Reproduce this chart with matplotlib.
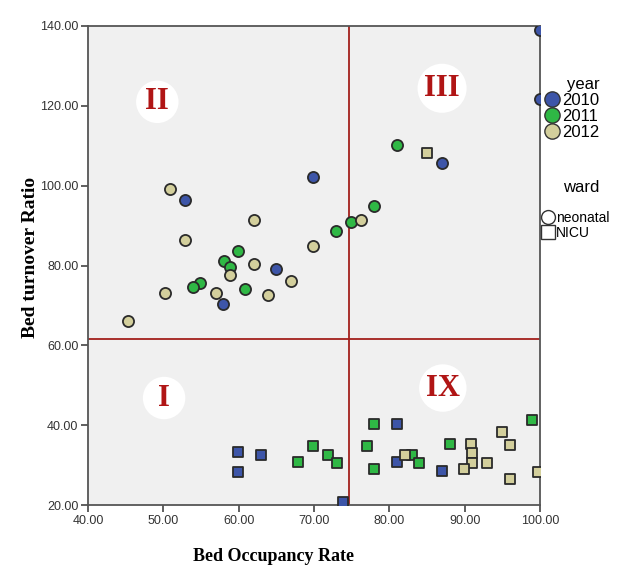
import matplotlib.pyplot as plt
from matplotlib.lines import Line2D

# bed occupancy rate (x) and bed turnover ratio (y), by ward and year
neo_2010_x = [52.9, 69.9, 64.9, 57.9, 87.0, 100.0, 100.0]
neo_2010_y = [96.5, 102.1, 79.0, 70.3, 105.7, 139.0, 121.8]
neo_2011_x = [72.9, 74.9, 59.9, 58.0, 54.9, 53.9, 60.9, 81.0, 77.9, 58.9]
neo_2011_y = [88.6, 91.0, 83.7, 81.2, 75.6, 74.5, 74.0, 110.3, 94.8, 79.5]
neo_2012_x = [50.9, 52.9, 62.0, 69.9, 58.9, 62.0, 66.9, 50.2, 57.0, 63.9, 45.3, 76.3]
neo_2012_y = [99.2, 86.5, 91.4, 85.0, 77.7, 80.5, 76.0, 73.2, 73.0, 72.7, 66.0, 91.5]

nicu_2010_x = [59.9, 59.9, 63.0, 73.8, 81.0, 81.0, 87.0]
nicu_2010_y = [33.3, 28.2, 32.5, 20.7, 40.4, 30.8, 28.4]
nicu_2011_x = [67.9, 69.9, 71.9, 73.0, 77.9, 77.0, 77.9, 83.0, 84.0, 88.0, 99.0]
nicu_2011_y = [30.8, 34.7, 32.5, 30.4, 40.4, 34.7, 29.1, 32.5, 30.4, 35.3, 41.2]
nicu_2012_x = [85.0, 82.1, 90.8, 91.0, 91.0, 89.9, 92.9, 94.9, 96.0, 96.0, 99.8]
nicu_2012_y = [108.3, 32.5, 35.2, 33.0, 30.5, 29.0, 30.5, 38.2, 35.1, 26.6, 28.3]

years = ['2010', '2011', '2012']
wards = ['neonatal', 'NICU']
cut_x = 74.6
cut_y = 61.5

quad_labels = ['II', 'III', 'I', 'IX']
quad_x = [49.2, 87.0, 50.1, 87.1]
quad_y = [121.0, 124.4, 46.8, 49.3]

colors = {'2010': '#3d55a8', '2011': '#2fb845', '2012': '#d3cf9c'}
edge = '#2a2a2a'

fig = plt.figure(figsize=(6.28, 5.85), dpi=100)
ax = fig.add_axes([88/628, 1-505/585, 452/628, 479/585])
ax.set_facecolor('#f0f0f0')

groups = [
    (neo_2010_x, neo_2010_y, '2010', 'o'),
    (neo_2011_x, neo_2011_y, '2011', 'o'),
    (neo_2012_x, neo_2012_y, '2012', 'o'),
    (nicu_2010_x, nicu_2010_y, '2010', 's'),
    (nicu_2011_x, nicu_2011_y, '2011', 's'),
    (nicu_2012_x, nicu_2012_y, '2012', 's'),
]
for gx, gy, yr, mk in groups:
    ax.scatter(gx, gy, s=64 if mk == 'o' else 58, marker=mk, c=colors[yr],
               edgecolors=edge, linewidths=1.3, zorder=3)

ax.axvline(cut_x, color='#a3201c', lw=1.3, zorder=2)
ax.axhline(cut_y, color='#a3201c', lw=1.3, zorder=2)

for lab, qx, qy in zip(quad_labels, quad_x, quad_y):
    ax.text(qx, qy, lab, ha='center', va='center', fontsize=22,
            family='Liberation Serif', fontweight='bold', color='#b01515',
            bbox=dict(boxstyle='circle,pad=0.22', fc='white', ec='none'))

ax.set_xlim(40, 100)
ax.set_ylim(20, 140)
ax.set_xticks([40, 50, 60, 70, 80, 90, 100])
ax.set_yticks([20, 40, 60, 80, 100, 120, 140])
ax.xaxis.set_major_formatter(plt.FormatStrFormatter('%.2f'))
ax.yaxis.set_major_formatter(plt.FormatStrFormatter('%.2f'))
ax.tick_params(direction='out', length=5, width=1.2, color='#444444',
               labelsize=9, labelcolor='#333333', pad=2)
for lbl in ax.get_xticklabels() + ax.get_yticklabels():
    lbl.set_family('Liberation Sans')
for sp in ax.spines.values():
    sp.set_color('#555555')
    sp.set_linewidth(1.3)

ax.set_xlabel('Bed Occupancy Rate', family='Liberation Serif',
              fontweight='bold', fontsize=13)
ax.set_ylabel('Bed turnover Ratio', family='Liberation Serif',
              fontweight='bold', fontsize=14)
ax.xaxis.set_label_coords(0.41, -0.09)
ax.yaxis.set_label_coords(-0.108, 0.516)

# legends
year_handles = [Line2D([], [], ls='', marker='o', ms=11, mfc=colors[y],
                       mec='#333333', mew=1) for y in years]
leg1 = fig.legend(year_handles, years, title='year', loc='upper left',
                  bbox_to_anchor=(527/628, 1-62/585), frameon=False,
                  handletextpad=0.0, handlelength=1.2, labelspacing=0.05,
                  alignment='right',
                  prop={'family': 'Liberation Sans', 'size': 12},
                  title_fontproperties={'family': 'Liberation Sans', 'size': 12})
fig.text(581/628, 1-188/585, 'ward', ha='center', va='center',
         family='Liberation Sans', fontsize=12)
ward_handles = [Line2D([], [], ls='', marker=m, ms=10, mfc='none',
                       mec='#333333', mew=1) for m in ['o', 's']]
leg2 = fig.legend(ward_handles, wards, loc='upper left',
                  bbox_to_anchor=(527/628, 1-198/585), frameon=False,
                  handletextpad=0.0, handlelength=1.2, labelspacing=0.1,
                  prop={'family': 'Liberation Sans', 'size': 10})

fig.savefig('out.png', dpi=100)
